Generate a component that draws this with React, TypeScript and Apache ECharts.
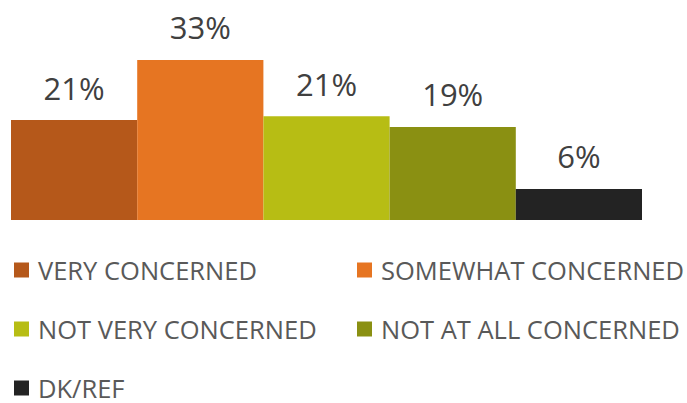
import React, { useEffect, useRef } from "react";
import * as echarts from "echarts";

const categories = [
  "VERY CONCERNED",
  "SOMEWHAT CONCERNED",
  "NOT VERY CONCERNED",
  "NOT AT ALL CONCERNED",
  "DK/REF",
];
const values = [20.6, 33.0, 21.4, 19.2, 6.4];
const colors = ["#B5581A", "#E67522", "#B7BD14", "#8A9012", "#232323"];
const leftColumn = ["VERY CONCERNED", "NOT VERY CONCERNED", "DK/REF"];
const rightColumn = ["SOMEWHAT CONCERNED", "NOT AT ALL CONCERNED"];

export default function App() {
  const ref = useRef<HTMLDivElement>(null);
  useEffect(() => {
    if (!ref.current) return;
    const chart = echarts.init(ref.current, undefined, { renderer: "svg" });
    const series = categories.map((name, i) => ({
      name,
      type: "bar" as const,
      stack: "all",
      barCategoryGap: "0%",
      barWidth: "100%",
      itemStyle: { color: colors[i] },
      data: categories.map((_, j) => (j === i ? values[i] : null)),
      label: {
        show: true,
        position: "top" as const,
        distance: 17,
        fontFamily: "Open Sans",
        fontSize: 31,
        color: "#404040",
        formatter: (p: any) => (p.value == null ? "" : Math.round(p.value) + "%"),
      },
    }));
    const legendCommon = {
      orient: "vertical" as const,
      icon: "rect",
      itemWidth: 15,
      itemHeight: 15,
      itemGap: 32,
      height: 146,
      padding: 0,
      selectedMode: false,
      textStyle: {
        fontFamily: "Open Sans",
        fontSize: 25.5,
        color: "#595959",
        lineHeight: 27,
        padding: [0, 0, 0, 4],
      },
    };
    chart.setOption({
      animation: false,
      color: colors,
      grid: { left: 11, right: 45, top: 26, bottom: 183 },
      xAxis: {
        type: "category",
        data: categories,
        show: false,
      },
      yAxis: { type: "value", min: 0, max: 40, show: false },
      legend: [
        { ...legendCommon, data: leftColumn, left: 14, top: 256.5 },
        { ...legendCommon, data: rightColumn, left: 357, top: 256.5 },
      ],
      series,
    });
    return () => chart.dispose();
  }, []);
  return (
    <div
      ref={ref}
      style={{ position: "absolute", left: 0, top: 0, width: 687, height: 403, background: "#fff" }}
    />
  );
}
